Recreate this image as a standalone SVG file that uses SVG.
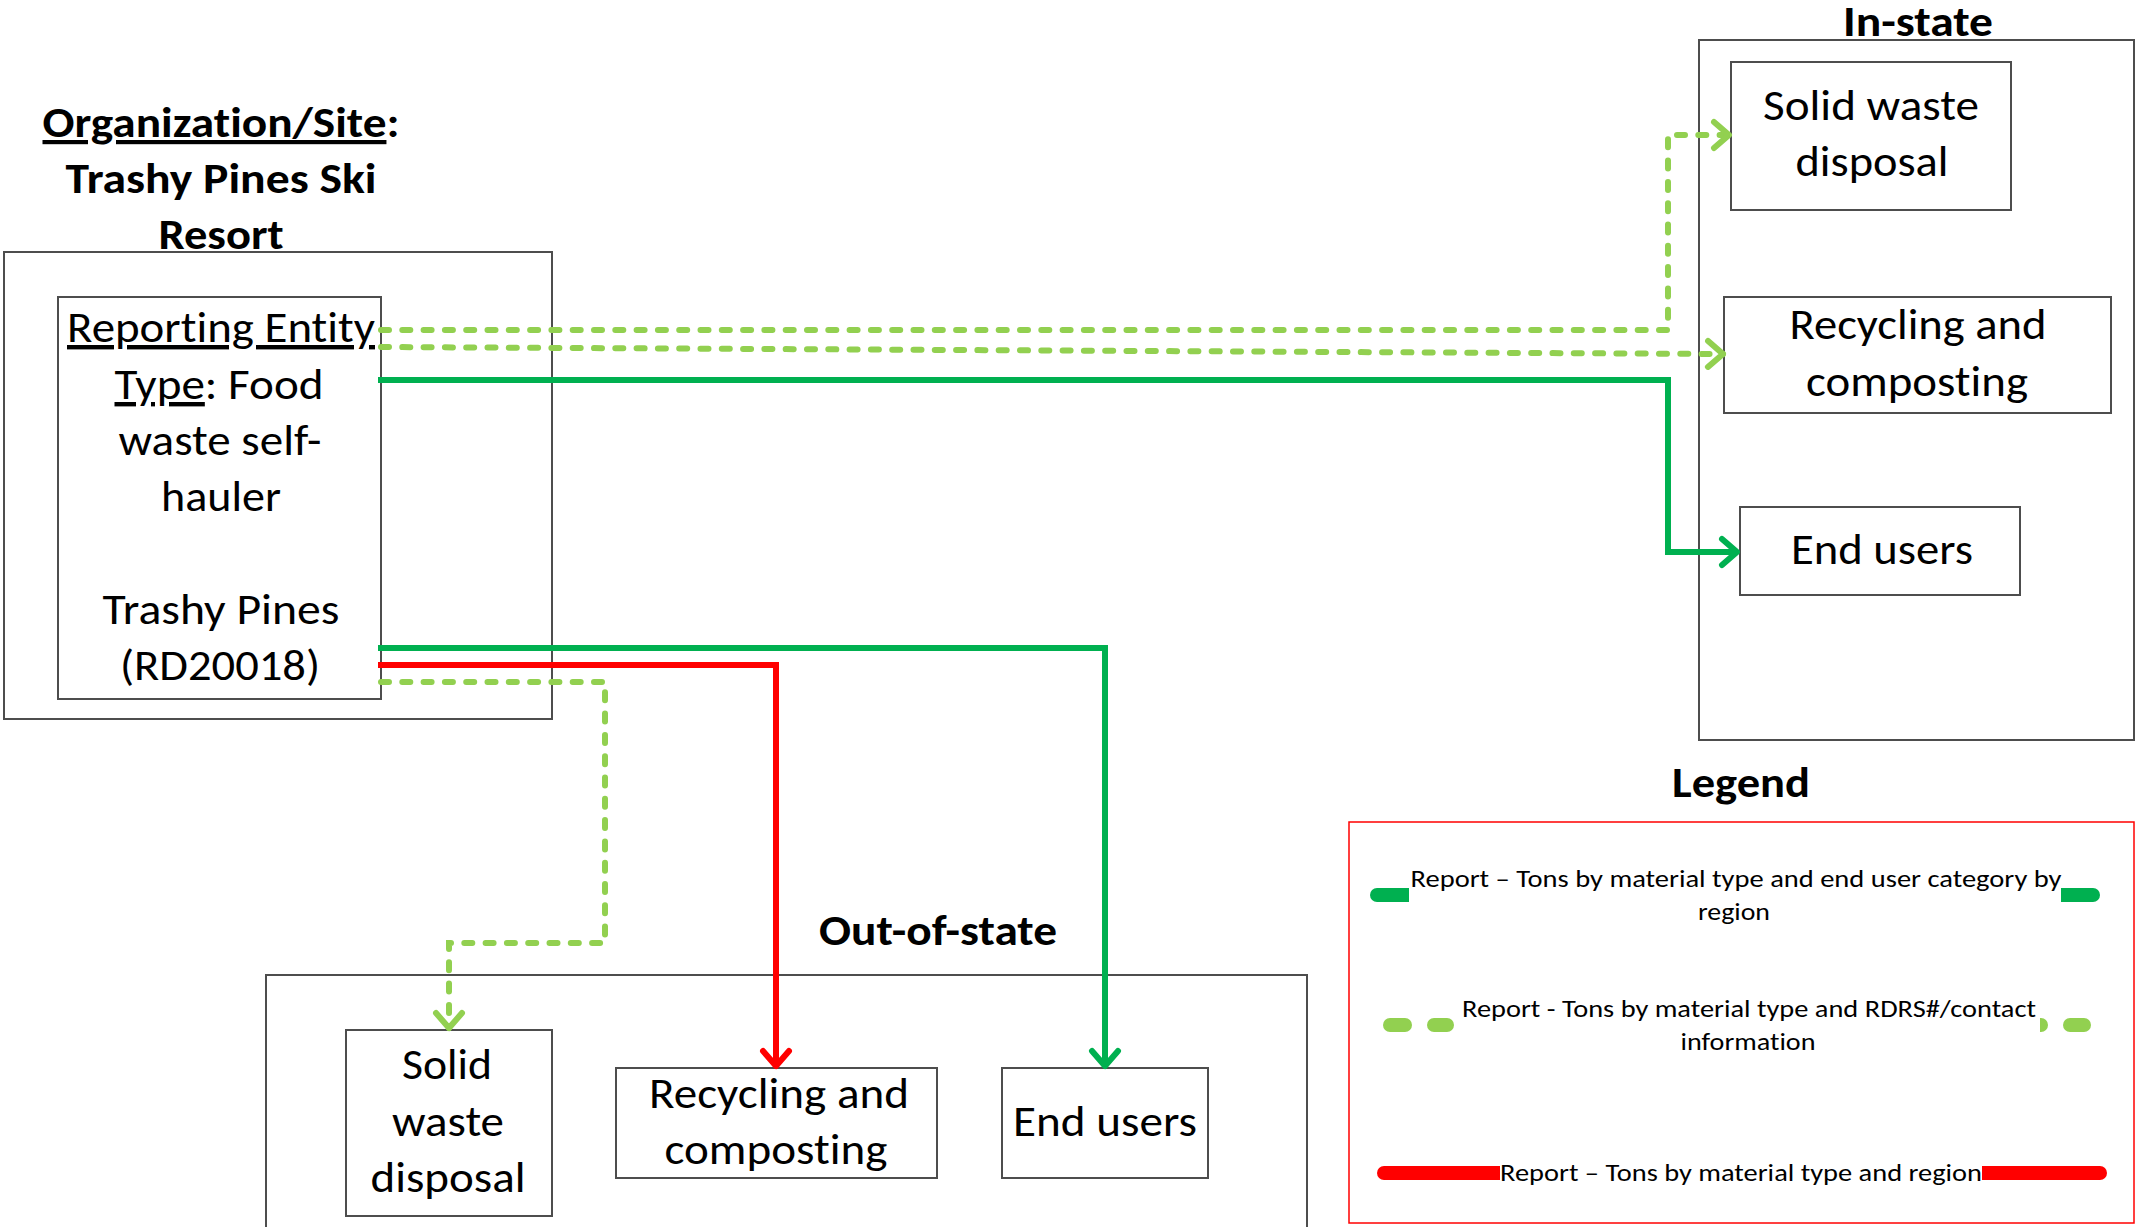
<svg xmlns="http://www.w3.org/2000/svg" width="2136" height="1227" viewBox="0 0 2136 1227">
<defs>
<style>
.box{fill:#fff;stroke:#4d4d4d;stroke-width:2}
.cont{fill:none;stroke:#4d4d4d;stroke-width:2}
text{font-variant-ligatures:none}
.t{font-family:Carlito,Calibri,Lato,"Liberation Sans",sans-serif;font-size:44px;fill:#000;text-anchor:middle}
.tb{font-family:Carlito,Calibri,Lato,"Liberation Sans",sans-serif;font-size:42px;font-weight:bold;fill:#000;text-anchor:middle}
.tl{font-family:Carlito,Calibri,Lato,"Liberation Sans",sans-serif;font-size:25px;fill:#000;text-anchor:middle}
.dg{fill:none;stroke:#00B050;stroke-width:6;stroke-linejoin:miter}
.lg{fill:none;stroke:#92D050;stroke-width:6;stroke-linecap:round;stroke-dasharray:8 13.3}
.rd{fill:none;stroke:#FF0000;stroke-width:6;stroke-linejoin:miter}
.u{text-decoration:underline}
</style>
<marker id="aDG" viewBox="-20 -18 26 36" refX="0" refY="0" markerWidth="26" markerHeight="36" markerUnits="userSpaceOnUse" orient="auto"><path d="M-15,-13 L0,0 L-15,13" fill="none" stroke="#00B050" stroke-width="6" stroke-linecap="round" stroke-linejoin="round"/></marker>
<marker id="aLG" viewBox="-20 -18 26 36" refX="0" refY="0" markerWidth="26" markerHeight="36" markerUnits="userSpaceOnUse" orient="auto"><path d="M-15,-13 L0,0 L-15,13" fill="none" stroke="#92D050" stroke-width="6" stroke-linecap="round" stroke-linejoin="round"/></marker>
<marker id="aRD" viewBox="-20 -18 26 36" refX="0" refY="0" markerWidth="26" markerHeight="36" markerUnits="userSpaceOnUse" orient="auto"><path d="M-15,-13 L0,0 L-15,13" fill="none" stroke="#FF0000" stroke-width="6" stroke-linecap="round" stroke-linejoin="round"/></marker>
</defs>
<rect width="2136" height="1227" fill="#fff"/>

<g id="org">
<rect class="cont" x="4" y="252" width="548" height="467"/>
<text class="tb" x="221" y="137" textLength="357" lengthAdjust="spacingAndGlyphs"><tspan class="u">Organization/Site</tspan>:</text>
<text class="tb" x="221" y="193" textLength="311" lengthAdjust="spacingAndGlyphs">Trashy Pines Ski</text>
<text class="tb" x="221" y="249" textLength="125" lengthAdjust="spacingAndGlyphs">Resort</text>
</g>

<g id="entity">
<rect class="box" x="58" y="297" width="323" height="402"/>
<text class="t" x="221" y="342" textLength="308" lengthAdjust="spacingAndGlyphs"><tspan class="u">Reporting Entity</tspan></text>
<text class="t" x="219" y="399" textLength="209" lengthAdjust="spacingAndGlyphs"><tspan class="u">Type</tspan>: Food</text>
<text class="t" x="220" y="455" textLength="203" lengthAdjust="spacingAndGlyphs">waste self-</text>
<text class="t" x="221" y="511" textLength="120" lengthAdjust="spacingAndGlyphs">hauler</text>
<text class="t" x="221" y="624" textLength="237" lengthAdjust="spacingAndGlyphs">Trashy Pines</text>
<text class="t" x="220" y="680" textLength="200" lengthAdjust="spacingAndGlyphs">(RD20018)</text>
</g>

<g id="instate">
<rect class="cont" x="1699" y="40" width="435" height="700"/>
<text class="tb" x="1918" y="36" textLength="150" lengthAdjust="spacingAndGlyphs">In-state</text>
</g>
<g id="in-solid">
<rect class="box" x="1731" y="62" width="280" height="148"/>
<text class="t" x="1871" y="120" textLength="216" lengthAdjust="spacingAndGlyphs">Solid waste</text>
<text class="t" x="1872" y="176" textLength="153" lengthAdjust="spacingAndGlyphs">disposal</text>
</g>
<g id="in-recycle">
<rect class="box" x="1724" y="297" width="387" height="116"/>
<text class="t" x="1918" y="339" textLength="257" lengthAdjust="spacingAndGlyphs">Recycling and</text>
<text class="t" x="1917" y="396" textLength="222" lengthAdjust="spacingAndGlyphs">composting</text>
</g>
<g id="in-end">
<rect class="box" x="1740" y="507" width="280" height="88"/>
<text class="t" x="1882" y="564" textLength="182" lengthAdjust="spacingAndGlyphs">End users</text>
</g>

<g id="outstate">
<rect class="cont" x="266" y="975" width="1041" height="270"/>
<text class="tb" x="938" y="945" textLength="238" lengthAdjust="spacingAndGlyphs">Out-of-state</text>
</g>
<g id="out-solid">
<rect class="box" x="346" y="1030" width="206" height="186"/>
<text class="t" x="447" y="1079" textLength="90" lengthAdjust="spacingAndGlyphs">Solid</text>
<text class="t" x="448" y="1136" textLength="112" lengthAdjust="spacingAndGlyphs">waste</text>
<text class="t" x="448" y="1192" textLength="155" lengthAdjust="spacingAndGlyphs">disposal</text>
</g>
<g id="out-recycle">
<rect class="box" x="616" y="1068" width="321" height="110"/>
<text class="t" x="779" y="1108" textLength="260" lengthAdjust="spacingAndGlyphs">Recycling and</text>
<text class="t" x="776" y="1164" textLength="223" lengthAdjust="spacingAndGlyphs">composting</text>
</g>
<g id="out-end">
<rect class="box" x="1002" y="1068" width="206" height="110"/>
<text class="t" x="1105" y="1136" textLength="184" lengthAdjust="spacingAndGlyphs">End users</text>
</g>

<g id="connectors">
<path class="lg" d="M381,330 H1668 V135 H1729" marker-end="url(#aLG)"/>
<path class="lg" d="M381,347 L1723,354" marker-end="url(#aLG)"/>
<path class="dg" d="M378,380 H1668 V552 H1737" marker-end="url(#aDG)"/>
<path class="dg" d="M378,648 H1105 V1066" marker-end="url(#aDG)"/>
<path class="rd" d="M378,665 H776 V1066" marker-end="url(#aRD)"/>
<path class="lg" d="M381,682 H605 V943 H449 V1028" marker-end="url(#aLG)"/>
</g>

<g id="legend">
<text class="tb" x="1741" y="797" textLength="138" lengthAdjust="spacingAndGlyphs">Legend</text>
<rect x="1349" y="822" width="785" height="401" fill="none" stroke="#FF0000" stroke-width="1.5"/>
<line x1="1377" y1="895" x2="2093" y2="895" stroke="#00B050" stroke-width="14" stroke-linecap="round"/>
<rect x="1409" y="886" width="652" height="18" fill="#fff"/>
<text class="tl" x="1736" y="887" textLength="651" lengthAdjust="spacingAndGlyphs">Report – Tons by material type and end user category by</text>
<text class="tl" x="1734" y="920" textLength="72" lengthAdjust="spacingAndGlyphs">region</text>
<g stroke="#92D050" stroke-width="14" stroke-linecap="round">
<line x1="1390" y1="1025" x2="1405" y2="1025"/>
<line x1="1434" y1="1025" x2="1447" y2="1025"/>
<line x1="2070" y1="1025" x2="2084" y2="1025"/>
</g>
<path d="M2040,1018 H2041 A7,7 0 0 1 2041,1032 H2040 Z" fill="#92D050"/>
<text class="tl" x="1749" y="1017" textLength="574" lengthAdjust="spacingAndGlyphs">Report - Tons by material type and RDRS#/contact</text>
<text class="tl" x="1748" y="1050" textLength="135" lengthAdjust="spacingAndGlyphs">information</text>
<line x1="1384" y1="1173" x2="2100" y2="1173" stroke="#FF0000" stroke-width="14" stroke-linecap="round"/>
<rect x="1500" y="1164" width="482" height="18" fill="#fff"/>
<text class="tl" x="1741" y="1181" textLength="482" lengthAdjust="spacingAndGlyphs">Report – Tons by material type and region</text>
</g>
</svg>
